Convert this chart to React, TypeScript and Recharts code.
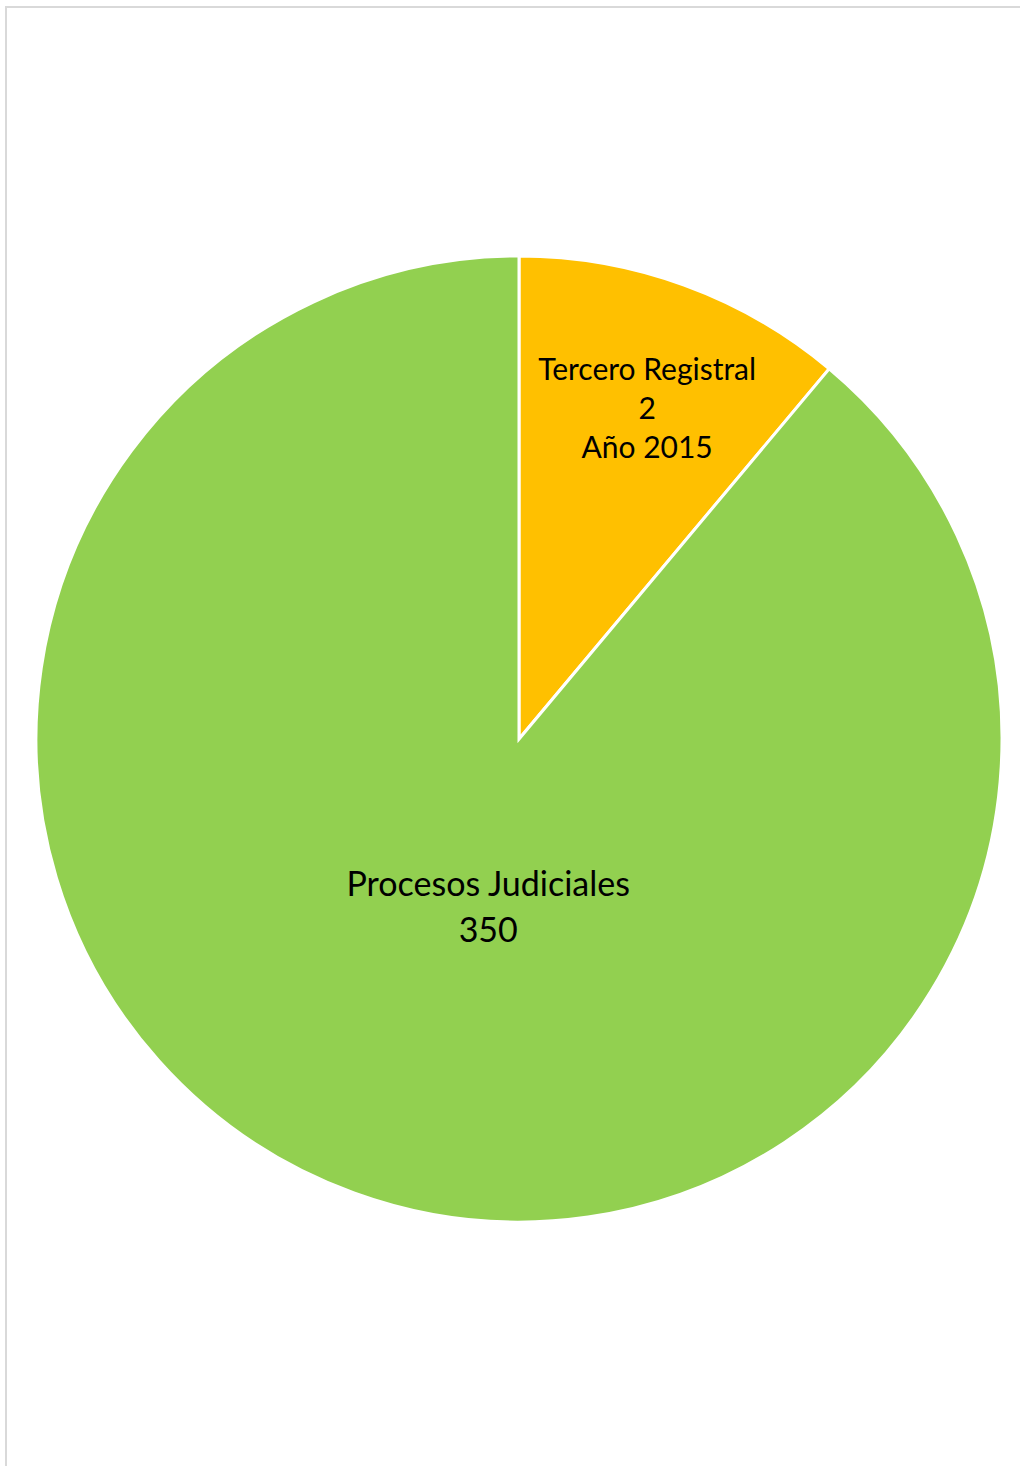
import * as React from "react";
import { PieChart, Pie, Cell } from "recharts";

// ─── Data ─────────────────────────────────────────────────
const categories = ["Tercero Registral", "Procesos Judiciales"];
// values printed on the labels
const labelValues = [2, 350];
// slice sizes (percent of the circle)
const sliceShares = [11.1, 88.9];
const extraLines = [["Año 2015"], []];

const COLORS = ["#FFC000", "#92D050"];
const FONT = "Lato, 'Open Sans', sans-serif";

// label placement per slice: fraction of radius, nudges, font size, line height
const LABEL_LAYOUT = [
  { r: 0.74, dx: 6, dy: 4, size: 30, lh: 39 },
  { r: 0.35, dx: 27, dy: 7, size: 34, lh: 46 },
];

const data = categories.map((name, i) => ({
  name,
  value: sliceShares[i],
  shown: labelValues[i],
  extra: extraLines[i],
}));

const RAD = Math.PI / 180;

function SliceLabel(props: any) {
  const { cx, cy, midAngle, outerRadius, index, payload } = props;
  const lay = LABEL_LAYOUT[index];
  const x = cx + outerRadius * lay.r * Math.cos(-midAngle * RAD) + lay.dx;
  const y = cy + outerRadius * lay.r * Math.sin(-midAngle * RAD) + lay.dy;
  const p = payload?.payload ?? payload;
  const lines = [p.name, String(p.shown), ...(p.extra ?? [])];
  const top = y - ((lines.length - 1) * lay.lh) / 2;
  return (
    <text
      x={ x }
      y={ top }
      textAnchor="middle"
      dominantBaseline="central"
      fill="#000"
      style={ { fontFamily: FONT, fontSize: lay.size } }
    >
      { lines.map((l, i) => (
        <tspan key={ i } x={ x } dy={ i === 0 ? 0 : lay.lh }>{ l }</tspan>
      )) }
    </text>
  );
}

export default function App() {
  return (
    <div style={ { position: "absolute", left: 0, top: 0, width: 1020, height: 1466, background: "#fff", overflow: "hidden" } }>
      <div style={ {
        position: "absolute", left: 5, top: 6, width: 1030, height: 1480,
        borderLeft: "2px solid #d9d9d9", borderTop: "2px solid #d9d9d9",
      } } />
      <div style={ { position: "absolute", left: 0, top: 0 } }>
        <PieChart width={ 1020 } height={ 1466 } margin={ { top: 0, right: 0, bottom: 0, left: 0 } }>
          <Pie
            data={ data }
            dataKey="value"
            nameKey="name"
            cx={ 519 }
            cy={ 739 }
            outerRadius={ 483 }
            startAngle={ 90 }
            endAngle={ -270 }
            stroke="#fff"
            strokeWidth={ 3 }
            labelLine={ false }
            label={ SliceLabel }
            isAnimationActive={ false }
          >
            { data.map((_, i) => (
              <Cell key={ i } fill={ COLORS[ i ] } />
            )) }
          </Pie>
        </PieChart>
      </div>
    </div>
  );
}
